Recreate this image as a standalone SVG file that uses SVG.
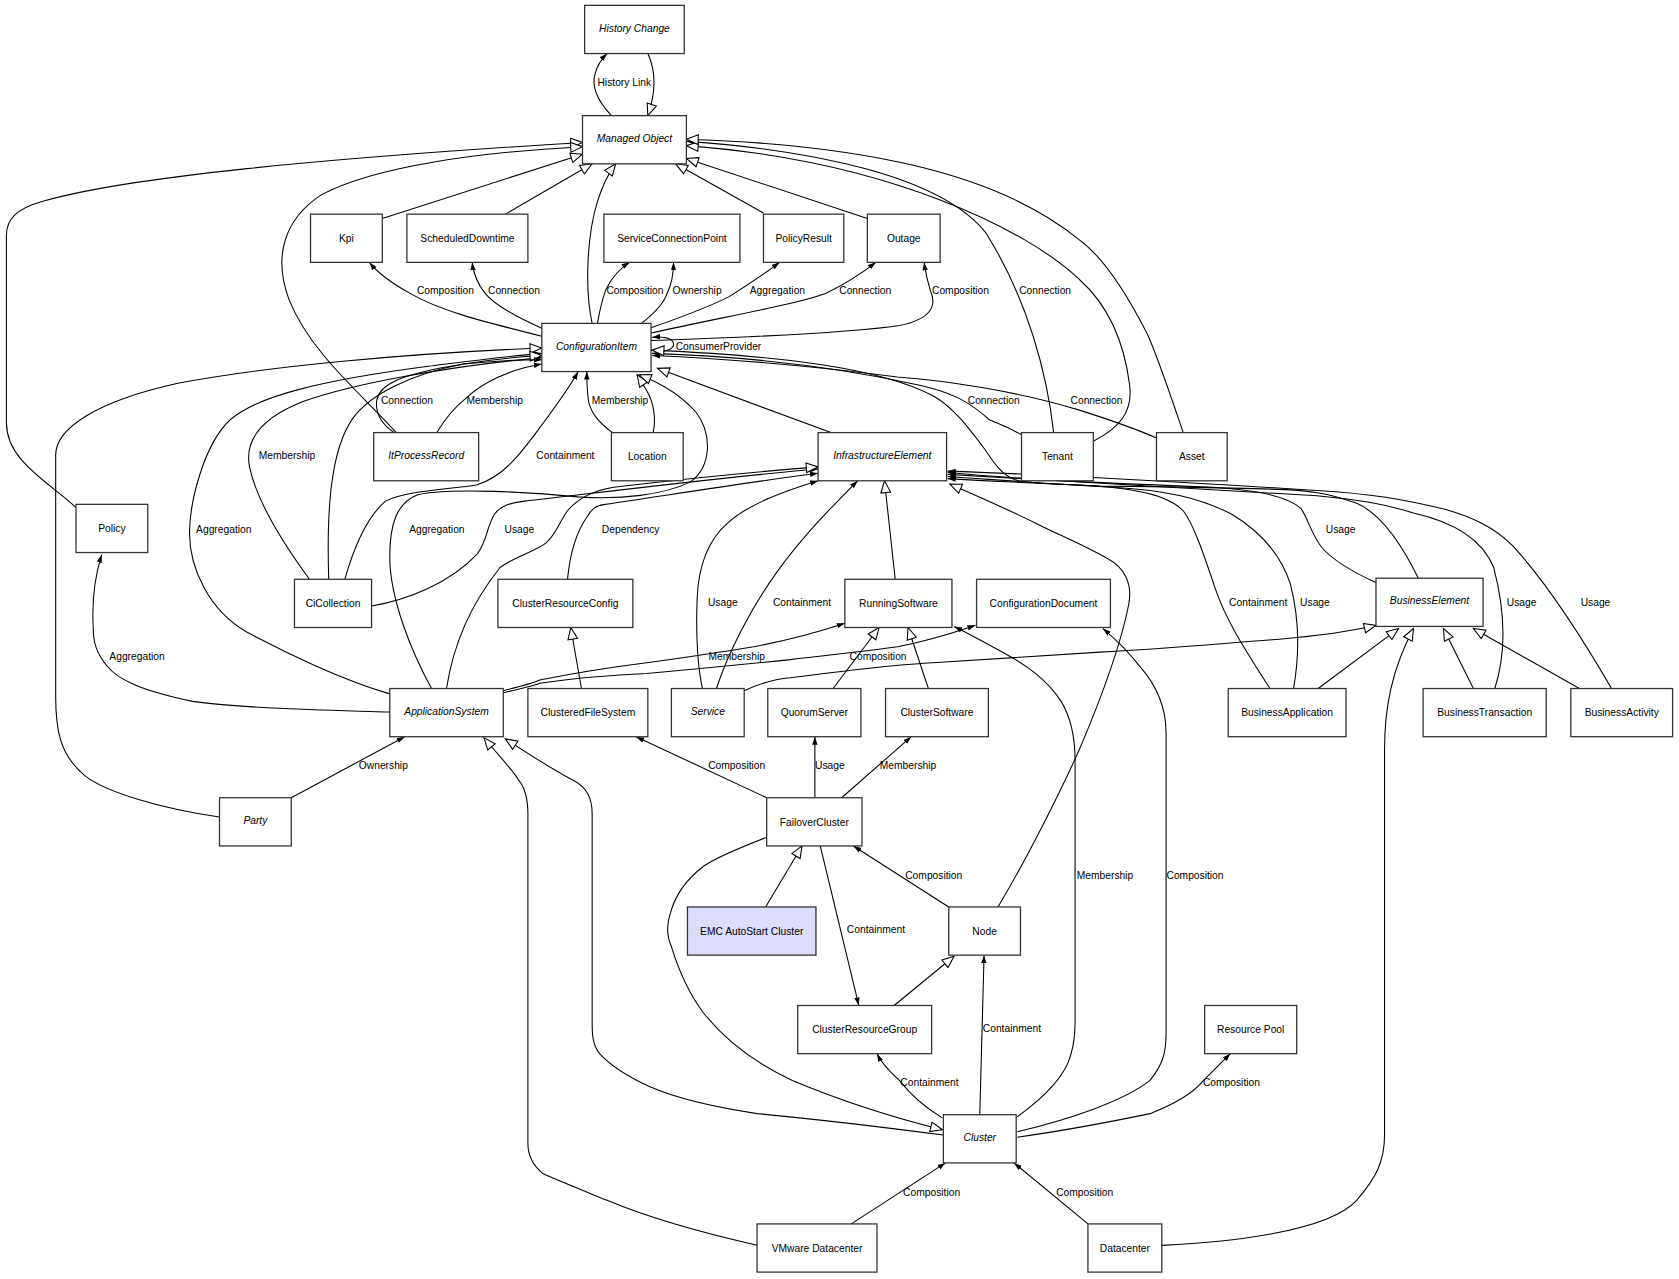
<svg xmlns="http://www.w3.org/2000/svg" width="1679" height="1279" viewBox="0 0 1679 1279">
<style>
.e{fill:none;stroke:#000;stroke-width:1}
.f{marker-end:url(#fa)}
.g{marker-end:url(#ha)}
.n rect{fill:#fff;stroke:#333;stroke-width:1.2}
text{font-family:"Liberation Sans",Arial,Helvetica,sans-serif;font-size:9.6px;text-anchor:middle;fill:#000}
.i{font-style:italic}
</style>
<defs>
<marker id="fa" markerWidth="9" markerHeight="7" refX="7.5" refY="3" orient="auto" markerUnits="userSpaceOnUse"><path d="M0,0.5 L7.5,3 L0,5.5 z" fill="#000"/></marker>
<marker id="ha" markerWidth="14" markerHeight="12" refX="12" refY="5.5" orient="auto" markerUnits="userSpaceOnUse"><path d="M1,1 L12,5.5 L1,10 z" fill="#fff" stroke="#000" stroke-width="1"/></marker>
</defs>
<rect x="0" y="0" width="1679" height="1279" fill="#fff"/>
<g transform="scale(1.0708)">
<g id="connectors">
<path class="e f" d="M571,108 C557,93 552,80 556,68 C558,60 562,55 567,50"/>
<path class="e g" d="M605,50 C612,65 613,85 605,108"/>
<path class="e g" d="M71,474 C45,450 6,430 6,395 L6,220 C6,205 15,195 40,188 C120,165 300,148 544,133"/>
<path class="e g" d="M370,404 C340,370 290,330 270,280 C255,240 265,205 300,182 C350,155 450,142 544,137"/>
<path class="e g" d="M357,204 L544,144"/>
<path class="e g" d="M472,200 L553,153"/>
<path class="e g" d="M553,302 C546,270 548,220 558,188 C563,172 568,162 575,153"/>
<path class="e g" d="M713,199 L631,153"/>
<path class="e g" d="M810,204 L641,148"/>
<path class="e f" d="M984,404 C978,350 960,280 921,218 C880,165 760,140 641,132"/>
<path class="e g" d="M1021,412 C1045,400 1058,385 1055,360 C1050,320 1035,285 1008,261 C960,215 830,150 641,136"/>
<path class="e g" d="M1105,404 C1090,360 1080,330 1071,311 C1050,270 1030,240 1008,224 C930,160 800,135 641,130"/>
<path class="e f" d="M506,314 C450,300 410,290 383,274 C365,264 352,254 345,245"/>
<path class="e f" d="M507,307 C480,295 462,285 453,274 C446,265 442,255 441,245"/>
<path class="e f" d="M558,302 C560,290 563,278 566,270 C572,258 580,250 588,245"/>
<path class="e f" d="M599,302 C612,292 620,283 623,274 C628,264 629,255 629,245"/>
<path class="e f" d="M608,306 C640,295 665,285 681,277 C700,265 715,255 728,245"/>
<path class="e f" d="M608,311 C680,295 740,285 771,274 C790,265 805,255 818,245"/>
<path class="e f" d="M608,318 C700,315 800,310 840,304 C870,298 875,285 869,272 C866,262 864,252 863,245"/>
<path class="e f" d="M608,327 C620,330 630,326 629,321 C628,316 620,314 609,315"/>
<path class="e g" d="M205,763 C150,755 100,740 80,725 C55,705 52,680 52,650 L52,425 C52,400 90,375 166,358 C250,342 380,330 506,325"/>
<path class="e f" d="M364,648 C320,635 267,610 230,590 C195,570 177,530 177,498 C177,470 190,415 215,392 C240,370 300,355 400,342 C440,337 470,333 506,330"/>
<path class="e f" d="M289,541 C270,515 240,470 233,436 C228,410 245,390 283,375 C330,358 420,342 506,334"/>
<path class="e g" d="M307,541 C305,480 308,420 330,390 C345,370 380,350 433,340 C460,336 485,333 506,332"/>
<path class="e f" d="M368,404 C355,395 350,385 352,373 C355,360 370,350 433,340 C460,337 485,336 506,336"/>
<path class="e f" d="M408,404 C415,392 425,380 435,372 C450,358 475,345 506,340"/>
<path class="e f" d="M322,541 C328,520 340,485 360,468 C380,458 420,457 445,453 C470,445 485,425 500,405 C515,385 530,365 540,347"/>
<path class="e f" d="M572,404 C560,395 550,385 549,370 C548,360 548,355 548,347"/>
<path class="e g" d="M610,404 C613,390 610,375 604,365 C600,358 597,353 595,350"/>
<path class="e g" d="M403,643 C385,610 364,560 364,520 C364,490 370,470 390,462 C420,455 500,460 540,464 C580,467 620,462 645,450 C665,435 665,405 650,385 C635,368 615,357 597,350"/>
<path class="e g" d="M776,404 L614,344"/>
<path class="e f" d="M954,406 C940,398 930,395 924,392 C905,375 890,367 860,360 C780,342 700,333 609,330"/>
<path class="e f" d="M1080,409 C1055,398 1030,390 1008,383 C950,365 880,355 838,352 C760,342 680,335 609,332"/>
<path class="e g" d="M1325,541 C1310,510 1290,480 1267,470 C1240,460 1220,458 1195,457 C1120,455 1060,454 1027,454 C990,452 960,452 948,448 C935,443 928,432 920,420 C905,400 890,380 872,370 C820,342 720,332 609,327"/>
<path class="e f" d="M347,566 C380,560 420,545 446,517 C455,505 455,490 462,480 C468,472 475,470 490,468 C560,460 680,445 764,438"/>
<path class="e f" d="M530,541 C532,520 536,500 548,483 C552,476 556,472 565,471 C620,463 700,450 764,442"/>
<path class="e g" d="M417,643 C422,610 435,570 467,530 C480,520 500,515 510,507 C520,498 522,488 530,477 C540,465 555,458 573,455 C640,447 700,441 764,436"/>
<path class="e f" d="M656,643 C651,620 650,590 651,560 C652,530 660,505 680,488 C700,470 735,458 764,449"/>
<path class="e f" d="M669,643 C680,610 700,570 725,535 C750,500 780,470 801,449"/>
<path class="e g" d="M836,541 L826,449"/>
<path class="e g" d="M932,847 C960,800 990,740 1008,700 C1025,660 1045,610 1054,565 C1058,545 1050,530 1035,522 C1010,508 990,500 970,490 C940,475 910,462 887,452"/>
<path class="e f" d="M1285,544 C1265,535 1245,523 1235,512 C1225,500 1222,485 1215,475 C1205,465 1180,458 1133,455 C1050,452 950,448 885,441"/>
<path class="e f" d="M1186,643 C1165,610 1145,580 1135,550 C1125,520 1115,490 1105,477 C1090,462 1060,456 1010,453 C960,451 920,449 885,447"/>
<path class="e f" d="M1208,643 C1213,615 1214,580 1205,545 C1195,515 1175,495 1150,480 C1120,465 1090,458 1040,455 C980,452 930,448 885,445"/>
<path class="e f" d="M1396,643 C1405,615 1408,580 1395,530 C1385,505 1360,488 1320,479 C1290,470 1270,467 1230,463 C1100,455 980,448 885,443"/>
<path class="e f" d="M1505,643 C1480,600 1445,545 1413,510 C1395,492 1375,483 1351,476 C1310,466 1280,461 1230,458 C1100,450 980,443 885,440"/>
<path class="e g" d="M695,645 C710,638 725,634 738,633 C800,625 850,620 871,619 C950,614 1000,611 1027,609 C1100,605 1150,600 1195,597 C1230,594 1260,590 1285,584"/>
<path class="e g" d="M1231,643 L1306,587"/>
<path class="e g" d="M1376,643 L1348,587"/>
<path class="e g" d="M1475,643 L1376,587"/>
<path class="e g" d="M1085,1163 C1150,1160 1240,1150 1267,1121 C1285,1100 1293,1085 1293,1060 L1293,700 C1293,660 1300,625 1320,587"/>
<path class="e f" d="M364,665 C300,663 233,662 180,655 C133,645 110,635 100,622 C90,610 87,600 87,585 C86,565 88,540 95,518"/>
<path class="e f" d="M470,645 C490,640 500,637 504,635 C540,628 580,622 604,619 C640,614 680,608 704,604 C740,597 765,590 789,582"/>
<path class="e f" d="M470,647 C490,642 500,640 504,638 C540,633 580,630 604,629 C660,624 700,620 738,616 C780,611 810,608 838,604 C870,598 890,591 911,584"/>
<path class="e f" d="M272,745 L378,688"/>
<path class="e g" d="M881,1060 C820,1052 760,1045 707,1040 C660,1033 630,1025 607,1015 C585,1005 570,995 560,984 C553,975 553,965 553,955 L553,760 C553,745 548,735 534,728 C515,718 495,705 472,690"/>
<path class="e g" d="M707,1163 C650,1150 600,1135 567,1121 C535,1108 515,1100 507,1096 C497,1088 493,1078 493,1068 L493,760 C493,745 490,735 484,728 C478,718 465,705 452,689"/>
<path class="e g" d="M543,643 L533,586"/>
<path class="e f" d="M716,745 L594,688"/>
<path class="e f" d="M761,745 L761,688"/>
<path class="e f" d="M786,745 L851,688"/>
<path class="e g" d="M778,643 L821,586"/>
<path class="e g" d="M867,643 L848,586"/>
<path class="e g" d="M715,847 L749,790"/>
<path class="e f" d="M766,790 L802,939"/>
<path class="e f" d="M886,847 L797,790"/>
<path class="e g" d="M835,939 L891,893"/>
<path class="e g" d="M716,782 C690,792 670,800 657,809 C640,822 630,838 626,853 C622,865 623,875 627,884 C635,910 645,930 657,946 C680,975 710,995 740,1009 C790,1030 840,1045 880,1055"/>
<path class="e f" d="M880,1044 C865,1035 850,1022 840,1009 C830,1000 823,992 819,984"/>
<path class="e f" d="M915,1041 L919,892"/>
<path class="e f" d="M950,1043 C975,1025 995,1005 1000,985 C1003,975 1004,965 1004,955 L1004,710 C1004,690 1000,670 991,655 C978,635 960,622 938,610 C920,600 905,592 891,585"/>
<path class="e f" d="M950,1057 C1000,1045 1050,1028 1074,1009 C1085,995 1089,985 1089,965 L1089,685 C1089,660 1080,640 1065,623 C1055,610 1042,597 1030,587"/>
<path class="e f" d="M950,1062 C1000,1055 1050,1045 1074,1040 C1100,1030 1115,1020 1124,1009 C1133,1000 1141,992 1149,984"/>
<path class="e f" d="M795,1143 L883,1086"/>
<path class="e f" d="M1016,1143 L947,1086"/>
<g id="edge-labels">
<text x="583" y="80.5">History Link</text>
<text x="416" y="274.5">Composition</text>
<text x="480" y="274.5">Connection</text>
<text x="593" y="274.5">Composition</text>
<text x="651" y="274.5">Ownership</text>
<text x="726" y="274.5">Aggregation</text>
<text x="808" y="274.5">Connection</text>
<text x="897" y="274.5">Composition</text>
<text x="976" y="274.5">Connection</text>
<text x="671" y="326.5">ConsumerProvider</text>
<text x="380" y="377.5">Connection</text>
<text x="462" y="377.5">Membership</text>
<text x="579" y="377.5">Membership</text>
<text x="928" y="377.5">Connection</text>
<text x="1024" y="377.5">Connection</text>
<text x="268" y="428.5">Membership</text>
<text x="528" y="428.5">Containment</text>
<text x="209" y="497.5">Aggregation</text>
<text x="408" y="497.5">Aggregation</text>
<text x="485" y="497.5">Usage</text>
<text x="589" y="497.5">Dependency</text>
<text x="1252" y="497.5">Usage</text>
<text x="675" y="565.5">Usage</text>
<text x="749" y="565.5">Containment</text>
<text x="1175" y="565.5">Containment</text>
<text x="1228" y="565.5">Usage</text>
<text x="1421" y="565.5">Usage</text>
<text x="1490" y="565.5">Usage</text>
<text x="128" y="616.5">Aggregation</text>
<text x="688" y="616.5">Membership</text>
<text x="820" y="616.5">Composition</text>
<text x="358" y="718.5">Ownership</text>
<text x="688" y="718.5">Composition</text>
<text x="775" y="718.5">Usage</text>
<text x="848" y="718.5">Membership</text>
<text x="872" y="820.5">Composition</text>
<text x="1032" y="820.5">Membership</text>
<text x="1116" y="820.5">Composition</text>
<text x="818" y="871.5">Containment</text>
<text x="945" y="963.5">Containment</text>
<text x="868" y="1014.5">Containment</text>
<text x="1150" y="1014.5">Composition</text>
<text x="870" y="1116.5">Composition</text>
<text x="1013" y="1116.5">Composition</text>
</g>
</g>
<g id="n-historychange" class="n"><rect x="546" y="5" width="93" height="45"/><text class="i" x="592.5" y="29.5">History Change</text></g>
<g id="n-managedobject" class="n"><rect x="544" y="108" width="97" height="45"/><text class="i" x="592.5" y="132.5">Managed Object</text></g>
<g id="n-kpi" class="n"><rect x="290" y="200" width="67" height="45"/><text x="323.5" y="226">Kpi</text></g>
<g id="n-scheduleddowntime" class="n"><rect x="380" y="200" width="113" height="45"/><text x="436.5" y="226">ScheduledDowntime</text></g>
<g id="n-serviceconnectionpoint" class="n"><rect x="564" y="200" width="127" height="45"/><text x="627.5" y="226">ServiceConnectionPoint</text></g>
<g id="n-policyresult" class="n"><rect x="713" y="200" width="75" height="45"/><text x="750.5" y="226">PolicyResult</text></g>
<g id="n-outage" class="n"><rect x="810" y="200" width="68" height="45"/><text x="844" y="226">Outage</text></g>
<g id="n-configurationitem" class="n"><rect x="506" y="302" width="102" height="45"/><text class="i" x="557" y="326.5">ConfigurationItem</text></g>
<g id="n-itprocessrecord" class="n"><rect x="349" y="404" width="98" height="45"/><text class="i" x="398" y="428.5">ItProcessRecord</text></g>
<g id="n-location" class="n"><rect x="571" y="404" width="67" height="45"/><text x="604.5" y="430">Location</text></g>
<g id="n-infrastructureelement" class="n"><rect x="764" y="404" width="120" height="45"/><text class="i" x="824" y="428.5">InfrastructureElement</text></g>
<g id="n-tenant" class="n"><rect x="954" y="404" width="67" height="45"/><text x="987.5" y="430">Tenant</text></g>
<g id="n-asset" class="n"><rect x="1080" y="404" width="66" height="45"/><text x="1113" y="430">Asset</text></g>
<g id="n-policy" class="n"><rect x="71" y="471" width="67" height="45"/><text x="104.5" y="497">Policy</text></g>
<g id="n-cicollection" class="n"><rect x="275" y="541" width="72" height="45"/><text x="311" y="567">CiCollection</text></g>
<g id="n-clusterresourceconfig" class="n"><rect x="465" y="541" width="126" height="45"/><text x="528" y="567">ClusterResourceConfig</text></g>
<g id="n-runningsoftware" class="n"><rect x="789" y="541" width="100" height="45"/><text x="839" y="567">RunningSoftware</text></g>
<g id="n-configurationdocument" class="n"><rect x="912" y="541" width="125" height="45"/><text x="974.5" y="567">ConfigurationDocument</text></g>
<g id="n-businesselement" class="n"><rect x="1285" y="540" width="100" height="45"/><text class="i" x="1335" y="564.5">BusinessElement</text></g>
<g id="n-applicationsystem" class="n"><rect x="364" y="643" width="106" height="45"/><text class="i" x="417" y="667.5">ApplicationSystem</text></g>
<g id="n-clusteredfilesystem" class="n"><rect x="493" y="643" width="112" height="45"/><text x="549" y="669">ClusteredFileSystem</text></g>
<g id="n-service" class="n"><rect x="627" y="643" width="68" height="45"/><text class="i" x="661" y="667.5">Service</text></g>
<g id="n-quorumserver" class="n"><rect x="717" y="643" width="87" height="45"/><text x="760.5" y="669">QuorumServer</text></g>
<g id="n-clustersoftware" class="n"><rect x="827" y="643" width="96" height="45"/><text x="875" y="669">ClusterSoftware</text></g>
<g id="n-businessapplication" class="n"><rect x="1147" y="643" width="110" height="45"/><text x="1202" y="669">BusinessApplication</text></g>
<g id="n-businesstransaction" class="n"><rect x="1329" y="643" width="115" height="45"/><text x="1386.5" y="669">BusinessTransaction</text></g>
<g id="n-businessactivity" class="n"><rect x="1467" y="643" width="95" height="45"/><text x="1514.5" y="669">BusinessActivity</text></g>
<g id="n-party" class="n"><rect x="205" y="745" width="67" height="45"/><text class="i" x="238.5" y="769.5">Party</text></g>
<g id="n-failovercluster" class="n"><rect x="716" y="745" width="89" height="45"/><text x="760.5" y="771">FailoverCluster</text></g>
<g id="n-emcautostartcluster" class="n"><rect x="642" y="847" width="120" height="45" style="fill:#dcdcfc"/><text x="702" y="873">EMC AutoStart Cluster</text></g>
<g id="n-node" class="n"><rect x="886" y="847" width="67" height="45"/><text x="919.5" y="873">Node</text></g>
<g id="n-clusterresourcegroup" class="n"><rect x="745" y="939" width="125" height="45"/><text x="807.5" y="965">ClusterResourceGroup</text></g>
<g id="n-resourcepool" class="n"><rect x="1125" y="939" width="86" height="45"/><text x="1168" y="965">Resource Pool</text></g>
<g id="n-cluster" class="n"><rect x="881" y="1041" width="68" height="45"/><text class="i" x="915" y="1065.5">Cluster</text></g>
<g id="n-vmwaredatacenter" class="n"><rect x="707" y="1143" width="112" height="45"/><text x="763" y="1169">VMware Datacenter</text></g>
<g id="n-datacenter" class="n"><rect x="1016" y="1143" width="69" height="45"/><text x="1050.5" y="1169">Datacenter</text></g>
</g>
</svg>
